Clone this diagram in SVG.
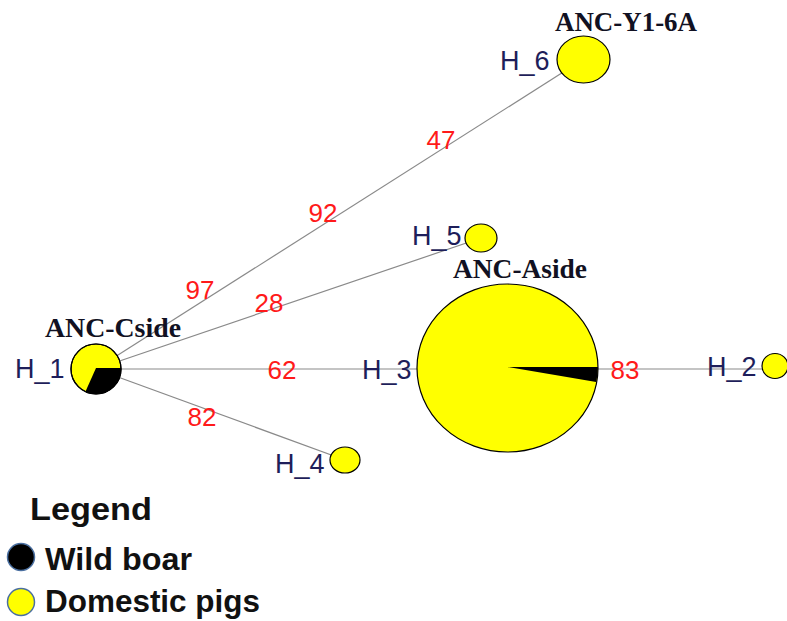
<svg xmlns="http://www.w3.org/2000/svg" width="787" height="621" viewBox="0 0 787 621">
<style>
.edge{stroke:#8a8a8a;stroke-width:1.2;fill:none}
.node{fill:#ffff00;stroke:#000;stroke-width:1.2}
.wedge{fill:#000}
.hl{font-family:"Liberation Sans",Arial,sans-serif;font-size:27px;fill:#1e1e5a}
.num{font-family:"Liberation Sans",Arial,sans-serif;font-size:26px;fill:#ff1a1a;text-anchor:middle}
.name{font-family:"Liberation Serif","Times New Roman",serif;font-size:27px;font-weight:bold;fill:#111122}
.leg{font-family:"Liberation Sans",Arial,sans-serif;font-size:31px;font-weight:bold;fill:#111}
.legdot{stroke:#4a6fa0;stroke-width:1.5}
</style>
<rect width="787" height="621" fill="#fff"/>
<g id="connectors">
<line class="edge" x1="96" y1="369" x2="583" y2="59.5"/>
<line class="edge" x1="96" y1="369" x2="481" y2="238"/>
<line class="edge" x1="96" y1="369" x2="507" y2="369"/>
<line class="edge" x1="96" y1="369" x2="345" y2="460"/>
<line class="edge" x1="507" y1="369" x2="775" y2="369"/>
</g>
<g id="edge-labels">
<text class="num" x="441" y="149">47</text>
<text class="num" x="323" y="222">92</text>
<text class="num" x="200" y="299">97</text>
<text class="num" x="269" y="312">28</text>
<text class="num" x="282" y="379">62</text>
<text class="num" x="625" y="379">83</text>
<text class="num" x="202" y="426">82</text>
</g>
<g id="H_1">
<ellipse class="node" cx="96" cy="369" rx="25" ry="25"/>
<path class="wedge" d="M96,368 H121 A25,25 0 0,1 85.4,391.7 Z"/>
<ellipse cx="96" cy="369" rx="25" ry="25" fill="none" stroke="#000" stroke-width="1.2"/>
<text class="hl" x="15" y="378">H_1</text>
<text class="name" x="45" y="337" textLength="136" lengthAdjust="spacingAndGlyphs">ANC-Cside</text>
</g>
<g id="H_3">
<ellipse class="node" cx="507.5" cy="368" rx="90.5" ry="84"/>
<path class="wedge" d="M507.5,367 H598 A90.5,84 0 0,1 596.2,382 Z"/>
<text class="hl" x="362" y="379">H_3</text>
<text class="name" x="453" y="278" textLength="134" lengthAdjust="spacingAndGlyphs">ANC-Aside</text>
</g>
<g id="H_6">
<ellipse class="node" cx="583.5" cy="59.5" rx="26.5" ry="23.5"/>
<text class="hl" x="500" y="70">H_6</text>
<text class="name" x="555" y="31" textLength="142" lengthAdjust="spacingAndGlyphs">ANC-Y1-6A</text>
</g>
<g id="H_5">
<ellipse class="node" cx="481" cy="238" rx="16" ry="14"/>
<text class="hl" x="412" y="245">H_5</text>
</g>
<g id="H_4">
<ellipse class="node" cx="345" cy="460" rx="15" ry="13"/>
<text class="hl" x="275" y="473">H_4</text>
</g>
<g id="H_2">
<ellipse class="node" cx="775" cy="366" rx="13" ry="12.5"/>
<text class="hl" x="707" y="376">H_2</text>
</g>
<g id="legend">
<text class="leg" x="30" y="520" textLength="122" lengthAdjust="spacingAndGlyphs">Legend</text>
<circle class="legdot" cx="21" cy="557" r="13.5" fill="#000"/>
<text class="leg" x="45" y="570" textLength="147" lengthAdjust="spacingAndGlyphs">Wild boar</text>
<circle class="legdot" cx="21" cy="602" r="13.5" fill="#ffff00"/>
<text class="leg" x="45" y="612" textLength="215" lengthAdjust="spacingAndGlyphs">Domestic pigs</text>
</g>
</svg>
